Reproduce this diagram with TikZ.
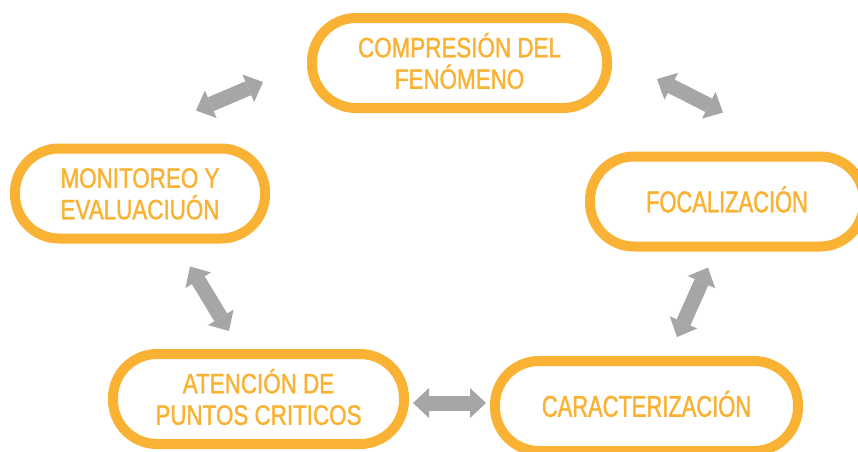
\documentclass[tikz,border=0pt]{standalone}
\usepackage{fontspec}
\newfontfamily\etapafont[FakeStretch=0.80, FakeBold=1.4]{Liberation Sans}
\newfontfamily\etapafontcn[FakeStretch=0.73, FakeBold=1.4]{Liberation Sans}
\usetikzlibrary{arrows.meta}
\definecolor{naranja}{HTML}{F9B233}
\definecolor{gris}{HTML}{A6A6A6}

\begin{document}
\begin{tikzpicture}[x=1pt, y=-1pt,
  etapa/.style={draw=naranja, line width=10pt, rounded corners=44pt, text=naranja,
    align=center, inner sep=0pt, minimum height=90pt, text height=51.5pt, text depth=0pt,
    font=\etapafont\fontsize{28}{31.5}\selectfont},
  etapagrande/.style={text height=21.5pt, text depth=0pt,
    font=\etapafontcn\fontsize{30}{33}\selectfont}]

\clip (0,0) rectangle (858,451);

\path [every node/.style={etapa}]
  node[minimum width=295pt] (compresion) at (459.5,63) {COMPRESIÓN DEL\\FENÓMENO}
  node[minimum width=274pt, etapagrande] (focalizacion) at (727,201.5) {FOCALIZACIÓN}
  node[minimum width=250pt] (monitoreo) at (140,193.5) {MONITOREO Y\\EVALUACIUÓN}
  node[minimum width=291pt] (atencion) at (258.5,399) {ATENCIÓN DE\\PUNTOS CRITICOS}
  node[minimum width=303pt, etapagrande] (caracterizacion) at (646.5,406) {CARACTERIZACIÓN};

\begin{scope}[<->, >={Triangle[length=16pt, width=30pt, line width=0pt]}, color=gris, line width=15pt]
	% Arriba
	\draw[<->] ([xshift=56pt,yshift=33pt]monitoreo.north) -- ([xshift=-44pt,yshift=-19pt]compresion.west) ;
	\draw[<->] ([xshift=45pt,yshift=-16pt]compresion.east) -- ([xshift=-4pt,yshift=39pt]focalizacion.north) ;
	% Lados
	\draw[<->] ([xshift=50pt,yshift=-23pt]monitoreo.south) -- ([xshift=-29.5pt,yshift=18pt]atencion.north) ;
	\draw[<->] ([xshift=-19pt,yshift=-16pt]focalizacion.south) -- ([xshift=30.5pt,yshift=19pt]caracterizacion.north) ;
	% Abajo
	\draw[<->] ([xshift=4pt,yshift=-4pt]atencion.east) -- ([xshift=-4pt,yshift=3pt]caracterizacion.west) ;
\end{scope}

\end{tikzpicture}
\end{document}
